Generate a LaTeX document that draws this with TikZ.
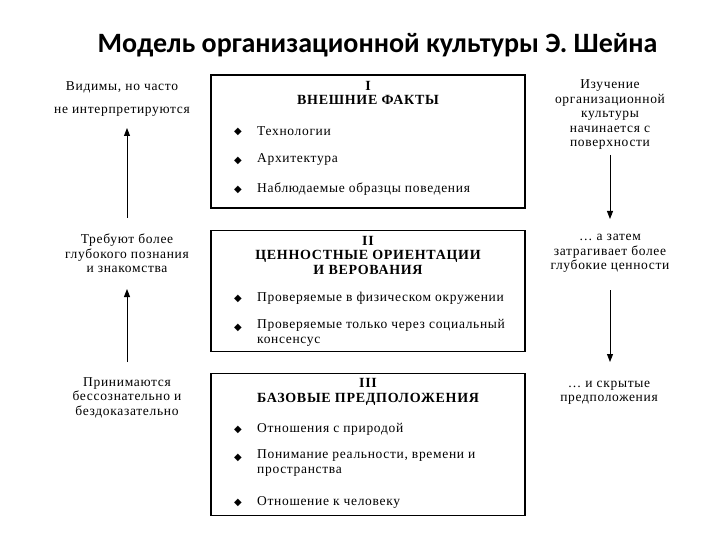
\documentclass[tikz,border=0pt]{standalone}
\usepackage{fontspec}
\setmainfont{Liberation Serif}[LetterSpace=5]
\newfontfamily\titlefont{Carlito}
\newfontfamily\symfont{DejaVu Sans}
\usetikzlibrary{arrows.meta}
\begin{document}
\begin{tikzpicture}[x=1pt,y=-1pt,
  box/.style={draw=black,line width=1.3pt,minimum width=314pt,inner sep=0pt},
  txt/.style={font=\fontsize{13.5}{14.5}\selectfont,inner sep=0pt,align=center},
  head/.style={font=\fontsize{14}{14.5}\selectfont\bfseries,inner sep=0pt,align=center},
  item/.style={font=\fontsize{13.5}{15}\selectfont,inner sep=0pt,anchor=west,align=left},
  bul/.style={font=\symfont\fontsize{10}{10}\selectfont,inner sep=0pt},
  arr/.style={line width=0.9pt,-{Triangle[length=8pt,width=6pt]}}]
\useasboundingbox (0,0) rectangle (720,540);
% title
\node[font=\titlefont\fontsize{28}{32}\selectfont\bfseries,inner sep=0pt] (title) at (377.5,45) {Модель организационной культуры Э. Шейна};
% boxes
\node[box,minimum height=133pt] (b1) at (368,141.5) {};
\node[box,minimum height=121pt] (b2) at (368,291) {};
\node[box,minimum height=142pt] (b3) at (368,444.5) {};
% box I
\node[head] (h1) at (368,93) {I\\ВНЕШНИЕ ФАКТЫ};
\node[bul] (d11) at (238,131.5) {◆};
\node[item] (i11) at (257,131) {Технологии};
\node[bul] (d12) at (238,160.5) {◆};
\node[item] (i12) at (257,160) {Архитектура};
\node[bul] (d13) at (238,189.5) {◆};
\node[item] (i13) at (257,189) {Наблюдаемые образцы поведения};
% box II
\node[head] (h2) at (368,255) {II\\ЦЕННОСТНЫЕ ОРИЕНТАЦИИ\\И ВЕРОВАНИЯ};
\node[bul] (d21) at (238,298.5) {◆};
\node[item] (i21) at (257,298) {Проверяемые в физическом окружении};
\node[bul] (d22) at (238,327.5) {◆};
\node[item,anchor=north west] (i22) at (257,319.5) {Проверяемые только через социальный\\консенсус};
% box III
\node[head] (h3) at (368,392) {III\\БАЗОВЫЕ ПРЕДПОЛОЖЕНИЯ};
\node[bul] (d31) at (238,429.5) {◆};
\node[item] (i31) at (257,429) {Отношения с природой};
\node[bul] (d32) at (238,457.5) {◆};
\node[item,anchor=north west] (i32) at (257,449.5) {Понимание реальности, времени и\\пространства};
\node[bul] (d33) at (238,502.5) {◆};
\node[item] (i33) at (257,502) {Отношение к человеку};
% left texts
\node[txt] (l1) at (122,99) {Видимы, но часто\\[9pt]не интерпретируются};
\node[txt] (l2) at (127,253.5) {Требуют более\\глубокого познания\\и знакомства};
\node[txt] (l3) at (127,397.5) {Принимаются\\бессознательно и\\бездоказательно};
% right texts
\node[txt] (r1) at (610,115) {Изучение\\организационной\\культуры\\начинается с\\поверхности};
\node[txt] (r2) at (610,253.5) {… а затем\\затрагивает более\\глубокие ценности};
\node[txt] (r3) at (609,393) {… и скрытые\\предположения};
% arrows
\coordinate (la1) at (127,218);
\coordinate (la1t) at (127,128);
\coordinate (la2) at (127,362);
\coordinate (la2t) at (127,289);
\coordinate (ra1) at (610,155);
\coordinate (ra1t) at (610,219);
\coordinate (ra2) at (610,290);
\coordinate (ra2t) at (610,362);
\draw[arr] (la1) -- (la1t);
\draw[arr] (la2) -- (la2t);
\draw[arr] (ra1) -- (ra1t);
\draw[arr] (ra2) -- (ra2t);
\end{tikzpicture}
\end{document}
